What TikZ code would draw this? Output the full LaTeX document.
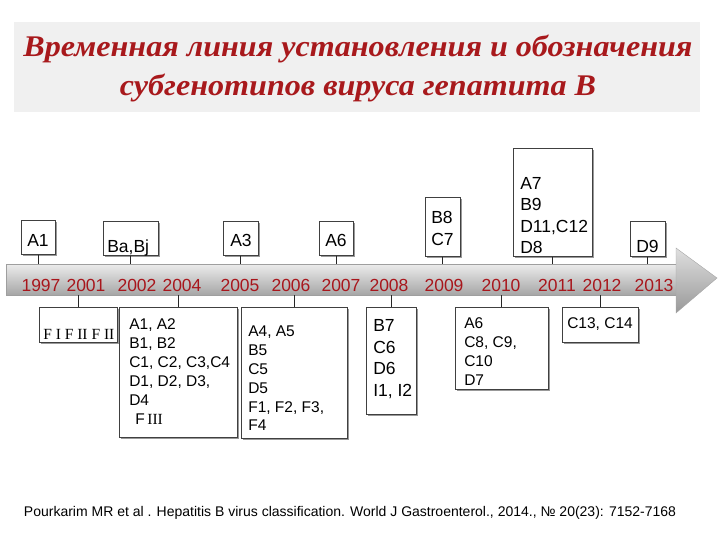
\documentclass[tikz,border=0pt]{standalone}
\usepackage{fontspec}
\setmainfont{Liberation Sans}
\newfontfamily\serifrm{Liberation Serif}
\usetikzlibrary{shadows}
\definecolor{titlered}{HTML}{A8191C}
\definecolor{yearred}{HTML}{A8161C}
\definecolor{bandgray}{HTML}{F0F0F0}
% box text: width, height, top gap, left gap, lines
\newcommand{\boxtxt}[5]{\parbox[c][#2pt][t]{#1pt}{\vspace*{#3pt}\raggedright\leftskip=#4pt #5}}
\tikzstyle{upbox} = [rectangle, draw=black!75, line width=0.6pt, fill=white, inner sep=0pt, anchor=north west, drop shadow={shadow xshift=1.3pt, shadow yshift=-1.3pt, fill=gray!80, opacity=1}, font=\fontsize{17.5}{21.5}\selectfont]
\tikzstyle{lowbox} = [upbox, font=\fontsize{15.5}{18.9}\selectfont]
\tikzstyle{year} = [text=yearred, inner sep=0pt, anchor=base, font=\fontsize{17.5}{20}\selectfont]
\tikzstyle{titleline} = [text=titlered, inner sep=0pt, anchor=base, font=\serifrm\bfseries\itshape\fontsize{30}{33}\selectfont]
\tikzstyle{link} = [black!85, line width=0.7pt]

\begin{document}
\begin{tikzpicture}[x=1pt, y=-1pt]
\useasboundingbox (0,0) rectangle (720,540);

\fill[bandgray] (14,22) rectangle (700,112);
\node (title1) [titleline] at (358,57) {\scalebox{1.07}[1]{Временная линия установления и обозначения}};
\node (title2) [titleline] at (358,96) {\scalebox{1.07}[1]{субгенотипов вируса гепатита В}};

%% полоса времени
\shade[top color=gray!15, middle color=gray!45, bottom color=gray!70, draw=gray!75] (6,264) rectangle (677,295);
\shade[top color=gray!25, middle color=gray!50, bottom color=gray!80, draw=gray!70] (676,248) -- (717,278) -- (676,313) -- cycle;
\coordinate (bartop) at (0,264);
\coordinate (barbot) at (0,295);

\foreach \yr/\px in {1997/41, 2001/86, 2002/137, 2004/182, 2005/240, 2006/291, 2007/341, 2008/389, 2009/444, 2010/501, 2011/557, 2012/602, 2013/654}
  \node (y\yr) [year] at (\px,291) {\yr};

\node (up1997) [upbox] at (21,220) {\boxtxt{34}{34}{14}{6}{A1}};
\node (up2002) [upbox] at (103,221) {\boxtxt{55}{34}{19}{4}{Ba,Bj}};
\node (up2005) [upbox] at (223,221) {\boxtxt{35}{34}{13}{7}{A3}};
\node (up2007) [upbox] at (319,221) {\boxtxt{34}{34}{13}{6}{A6}};
\node (up2009) [upbox] at (425,197) {\boxtxt{35}{59}{14}{6}{B8\\C7}};
\node (up2011) [upbox] at (513,148) {\boxtxt{79}{108}{29}{7}{A7\\B9\\D11,C12\\D8}};
\node (up2013) [upbox] at (630,221) {\boxtxt{35}{35}{19}{6}{D9}};

\node (low2001) [lowbox] at (39,307) {\boxtxt{78}{35}{22}{4}{\serifrm\fontsize{15.5}{17}\selectfont F I F II F II}};
\node (low2004) [lowbox] at (119,307) {\boxtxt{118}{130}{11.5}{10}{A1, A2\\B1, B2\\C1, C2, C3,C4\\D1, D2, D3,\\D4\\\hspace*{6pt}F\,{\serifrm III}}};
\node (low2006) [lowbox] at (241,307) {\boxtxt{106}{131}{18.5}{7}{A4, A5\\B5\\C5\\D5\\F1, F2, F3,\\F4}};
\node (low2008) [lowbox, font=\fontsize{17.5}{21.7}\selectfont] at (366,307) {\boxtxt{50}{107}{12}{7}{B7\\C6\\D6\\I1, I2}};
\node (low2010) [lowbox] at (455,307) {\boxtxt{93}{82}{10.5}{9}{A6\\C8, C9,\\C10\\D7}};
\node (low2012) [lowbox] at (562,307) {\boxtxt{76}{35}{10}{5}{C13, C14}};

%% линии после блоков
\foreach \n in {up1997, up2002, up2005, up2007, up2009, up2011, up2013}
  \draw [link] (\n.south) -- (\n.south |- bartop);
\foreach \n in {low2001, low2004, low2006, low2008, low2010, low2012}
  \draw [link] (\n.north |- barbot) -- (\n.north);

\node (cite) [font=\fontsize{14}{16}\selectfont] at (350,513) {Pourkarim MR et al . Hepatitis B virus classification. World J Gastroenterol., 2014., № 20(23): 7152-7168};

\end{tikzpicture}
\end{document}
